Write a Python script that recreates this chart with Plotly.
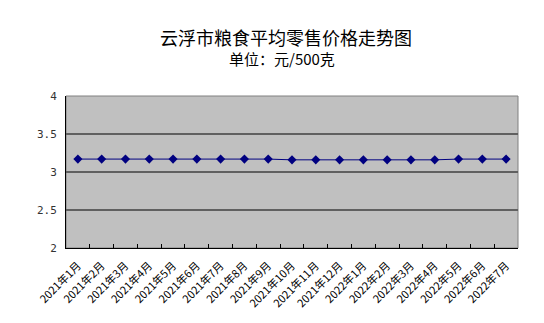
import plotly.graph_objects as go

months = ["2021年1月","2021年2月","2021年3月","2021年4月","2021年5月","2021年6月","2021年7月",
          "2021年8月","2021年9月","2021年10月","2021年11月","2021年12月","2022年1月","2022年2月",
          "2022年3月","2022年4月","2022年5月","2022年6月","2022年7月"]
prices = [3.17,3.17,3.17,3.17,3.17,3.17,3.17,3.17,3.17,3.16,3.16,3.16,3.16,3.16,3.16,3.16,3.17,3.17,3.17]

title_text = "云浮市粮食平均零售价格走势图"
subtitle_text = "单位：元/500克"
font_cjk = "Noto Sans CJK SC, SimSun, sans-serif"

L, R, T, B = 66, 26, 96, 75
W, H = 544, 323
plot_h = H - T - B
plot_w = W - L - R

fig = go.Figure()
fig.add_trace(go.Scatter(
    x=months, y=prices, mode="lines+markers",
    line=dict(color="#000080", width=1),
    marker=dict(symbol="diamond", size=7, color="#000080"),
    hoverinfo="x+y", showlegend=False,
))

fig.update_layout(
    width=W, height=H,
    margin=dict(l=L, r=R, t=T, b=B),
    paper_bgcolor="white",
    plot_bgcolor="#C0C0C0",
    font=dict(family=font_cjk, color="black", size=10),
    annotations=[
        dict(text=title_text, xref="paper", yref="paper", x=(286 - L) / plot_w, y=(H - B - 37) / plot_h,
             showarrow=False, font=dict(size=18, family=font_cjk, color="black"),
             xanchor="center", yanchor="middle"),
        dict(text=subtitle_text, xref="paper", yref="paper", x=(282 - L) / plot_w, y=(H - B - 58) / plot_h,
             showarrow=False, font=dict(size=15, family=font_cjk, color="black"),
             xanchor="center", yanchor="middle"),
    ],
    shapes=[dict(type="rect", xref="paper", yref="paper", x0=0, x1=1, y0=0, y1=1,
                 line=dict(color="#808080", width=1), layer="below")],
)

fig.update_xaxes(
    type="category", tickangle=-45, tickson="boundaries", ticks="inside", ticklen=4,
    tickcolor="black", showline=True, linecolor="black", linewidth=1, showgrid=False,
    tickfont=dict(size=11, family=font_cjk, color="black"), range=[-0.5, len(months) - 0.5],
    ticklabelstandoff=6,
)
fig.update_yaxes(
    range=[2, 4], tickvals=[2, 2.5, 3, 3.5, 4], ticktext=["2", "2.5", "3", "3.5", "4"],
    showline=True, linecolor="black", linewidth=1, showgrid=True, gridcolor="#606060", gridwidth=1.5,
    zeroline=False, ticks="", tickfont=dict(size=11, family="DejaVu Sans Mono, monospace", color="#333"),
    ticklabelstandoff=6,
)

fig.write_html("out.html")
